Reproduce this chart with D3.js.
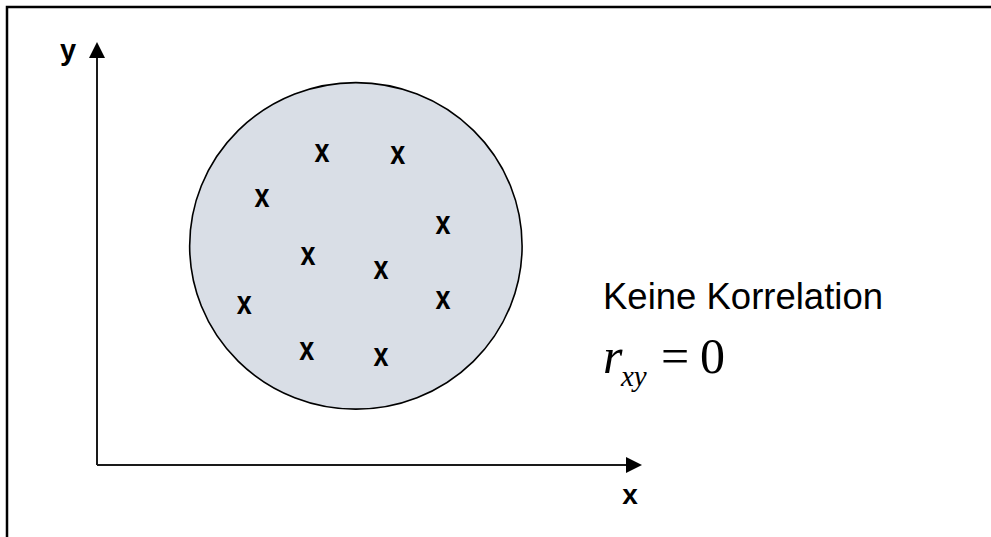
<!DOCTYPE html>
<html>
<head>
<meta charset="utf-8">
<script src="https://cdn.jsdelivr.net/npm/d3@7"></script>
<style>
  body { margin: 0; background: #fff; }
  svg { display: block; }
</style>
</head>
<body>
<script>
// scatter points (x, y in axis units 0..100)
const pointX = [41.3, 55.2, 30.3, 63.5, 38.7, 52.1, 27.0, 63.5, 38.5, 52.1];
const pointY = [73.8, 73.3, 63.1, 56.7, 49.4, 46.1, 37.8, 39.0, 27.0, 25.5];
// ellipse around the cloud: center + radii in axis units
const cloudCenter = [47.5, 51.8];
const cloudRadius = [30.5, 38.6];
const axisLabels = ["x", "y"];
const caption = "Keine Korrelation";

const W = 991, H = 537;
const sans = "Arial, 'Liberation Sans', sans-serif";
const serif = "'Times New Roman', 'Liberation Serif', serif";

const svg = d3.select("body").append("svg")
    .attr("width", W)
    .attr("height", H);

// frame (top and left only)
svg.append("path")
    .attr("d", "M7,537 L7,7 L991,7")
    .attr("fill", "none")
    .attr("stroke", "#000")
    .attr("stroke-width", 2.5);

const x = d3.scaleLinear().domain([0, 100]).range([97, 642]);
const y = d3.scaleLinear().domain([0, 100]).range([465, 42]);

// ellipse
svg.append("ellipse")
    .attr("cx", x(cloudCenter[0]))
    .attr("cy", y(cloudCenter[1]))
    .attr("rx", x(cloudRadius[0]) - x(0))
    .attr("ry", y(0) - y(cloudRadius[1]))
    .attr("fill", "#d9dee6")
    .attr("stroke", "#000")
    .attr("stroke-width", 1.6);

// axes
const ax = svg.append("g").attr("stroke", "#1a1a1a").attr("stroke-width", 2);
ax.append("line").attr("x1", x(0)).attr("y1", y(0)).attr("x2", x(0)).attr("y2", y(100) + 14);
ax.append("line").attr("x1", x(0)).attr("y1", y(0)).attr("x2", x(100) - 14).attr("y2", y(0));
svg.append("path")
    .attr("d", `M${x(0)},${y(100)} L${x(0) - 8},${y(100) + 16} L${x(0) + 8},${y(100) + 16} Z`)
    .attr("fill", "#000");
svg.append("path")
    .attr("d", `M${x(100)},${y(0)} L${x(100) - 16},${y(0) - 8} L${x(100) - 16},${y(0) + 8} Z`)
    .attr("fill", "#000");

// axis labels
svg.append("text")
    .attr("x", x(100) - 12).attr("y", 504)
    .attr("text-anchor", "middle")
    .attr("font-family", sans).attr("font-weight", "bold").attr("font-size", 28)
    .text(axisLabels[0]);
svg.append("text")
    .attr("x", 68).attr("y", 60)
    .attr("text-anchor", "middle")
    .attr("font-family", sans).attr("font-weight", "bold").attr("font-size", 29)
    .text(axisLabels[1]);

// points drawn as "x" glyphs (slightly tall, as in the original)
svg.append("g")
    .selectAll("text")
    .data(pointX.map((v, i) => [v, pointY[i]]))
    .join("text")
    .attr("transform", d => `translate(${x(d[0])},${y(d[1])}) scale(1,1.2)`)
    .attr("dy", "0.27em")
    .attr("text-anchor", "middle")
    .attr("font-family", sans).attr("font-weight", "bold").attr("font-size", 27)
    .text("x");

// caption
svg.append("text")
    .attr("x", 603).attr("y", 309)
    .attr("font-family", sans).attr("font-size", 36.5)
    .text(caption);

// formula r_xy = 0
const f = svg.append("text")
    .attr("x", 603).attr("y", 373)
    .attr("font-family", serif)
    .attr("font-size", 50);
f.append("tspan").attr("font-style", "italic").text("r");
f.append("tspan").attr("x", 621).attr("y", 386)
    .attr("font-style", "italic").attr("font-size", 29).text("xy");
f.append("tspan").attr("x", 661).attr("y", 373).text("=");
f.append("tspan").attr("x", 700).attr("y", 373).text("0");
</script>
</body>
</html>
